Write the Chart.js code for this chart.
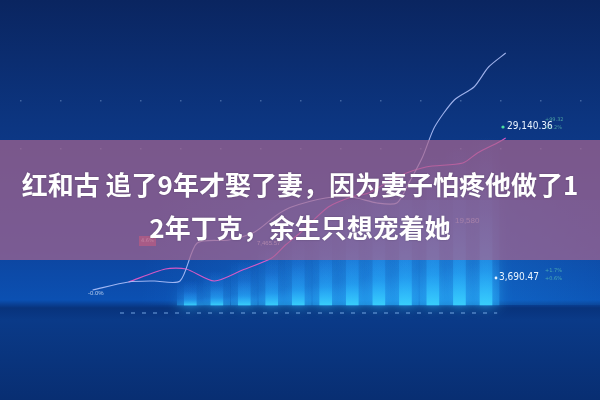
<!DOCTYPE html>
<html>
<head>
<meta charset="utf-8">
<script src="https://cdn.jsdelivr.net/npm/chart.js@4.4.1/dist/chart.umd.min.js"></script>
<style>
  body { margin: 0; background: #0a2a66; }
  #wrap { position: relative; width: 600px; height: 400px; overflow: hidden; }
  #band {
    position: absolute; left: 0; top: 140px; width: 600px; height: 120px;
    box-sizing: border-box; padding-top: 22px;
    background: rgba(169, 101, 143, 0.7);
    color: #fff; text-align: center;
    font: bold 26px "Noto Sans CJK SC", "Noto Sans", sans-serif;
    line-height: 43px;
    text-shadow: 0 0 2px rgba(0, 0, 0, 0.25);
  }
</style>
</head>
<body>
<div id="wrap">
  <canvas id="myChart" width="600" height="400"></canvas>
  <div id="band">红和古 追了9年才娶了妻，因为妻子怕疼他做了1<br>2年丁克，余生只想宠着她</div>
</div>

<script>
// index line (light blue)
var whiteX = [58, 100, 130, 160, 180, 217, 247, 273, 290, 330, 360, 390, 413, 427, 443, 457, 480, 503, 520, 540];
var whiteY = [110, 118, 119, 119, 157, 160, 168, 185, 193, 202, 203, 197, 197, 217, 243, 273, 300, 313, 333, 347];

// second line (pink)
var pinkX = [100, 143, 167, 200, 233, 267, 283, 300, 333, 360, 380, 413, 447, 490, 507, 530, 540];
var pinkY = [118, 131, 131, 119, 130, 142, 155, 167, 193, 203, 207, 223, 233, 237, 247, 257, 262];

// glowing columns
var barX = [172, 203, 235, 267, 298, 330, 361, 392, 423, 455, 486, 517];
var barTop = [120, 130, 140, 155, 170, 185, 200, 215, 230, 245, 255, 265];
var barBase = 95;

// dashed floor line
var floorX = [90, 530];
var floorY = [87, 87];

function pts(xs, ys) {
    var out = [];
    for (var i = 0; i < xs.length; i++) out.push({ x: xs[i], y: ys[i] });
    return out;
}

var barData = [];
for (var i = 0; i < barX.length; i++) barData.push({ x: barX[i], y: [barBase, barTop[i]] });

function barFill(c, strong) {
    var chart = c.chart;
    if (!chart.chartArea || !c.raw) return "rgba(0,0,0,0)";
    var ys = chart.scales.y;
    var g = chart.ctx.createLinearGradient(0, ys.getPixelForValue(c.raw.y[0]), 0, ys.getPixelForValue(c.raw.y[1]));
    if (strong) {
        g.addColorStop(0, "rgba(60,215,255,0.85)");
        g.addColorStop(0.2, "rgba(40,175,255,0.45)");
        g.addColorStop(0.55, "rgba(40,140,255,0.12)");
        g.addColorStop(1, "rgba(40,130,255,0)");
    } else {
        g.addColorStop(0, "rgba(40,180,255,0.4)");
        g.addColorStop(0.25, "rgba(40,150,255,0.15)");
        g.addColorStop(1, "rgba(40,120,255,0)");
    }
    return g;
}

var background = {
    id: "background",
    beforeDraw: function (chart) {
        var ctx = chart.ctx, w = chart.width, h = chart.height;
        ctx.save();
        var g = ctx.createLinearGradient(0, 0, 0, h);
        g.addColorStop(0, "#0a2560");
        g.addColorStop(0.3, "#0c3580");
        g.addColorStop(0.62, "#0d449e");
        g.addColorStop(0.75, "#0b50b2");
        g.addColorStop(0.77, "#08337c");
        g.addColorStop(0.8, "#0a3a88");
        g.addColorStop(1, "#082e72");
        ctx.fillStyle = g;
        ctx.fillRect(0, 0, w, h);

        // soft glow behind the columns
        var r = ctx.createRadialGradient(400, 300, 10, 400, 300, 260);
        r.addColorStop(0, "rgba(30,160,255,0.35)");
        r.addColorStop(1, "rgba(30,160,255,0)");
        ctx.fillStyle = r;
        ctx.fillRect(0, 200, w, 105);

        // faint dot grid
        ctx.fillStyle = "rgba(190,220,255,0.3)";
        for (var x = 20; x < w; x += 40) {
            ctx.fillRect(x, 100, 1.5, 1.5);
            ctx.fillRect(x, 148, 1.5, 1.5);
        }
        ctx.restore();
    },
    beforeDatasetDraw: function (chart, args) {
        if (args.meta.type === "bar") {
            chart.ctx.save();
            chart.ctx.shadowColor = "rgba(50,190,255,0.8)";
            chart.ctx.shadowBlur = 14;
        }
    },
    afterDatasetDraw: function (chart, args) {
        if (args.meta.type === "bar") chart.ctx.restore();
    }
};

var labels = {
    id: "labels",
    afterDatasetsDraw: function (chart) {
        var ctx = chart.ctx;
        ctx.save();
        ctx.textBaseline = "middle";
        ctx.textAlign = "left";

        ctx.fillStyle = "#4be0a0";
        ctx.beginPath(); ctx.arc(503, 127, 1.6, 0, Math.PI * 2); ctx.fill();
        ctx.fillStyle = "#eaf4ff";
        ctx.font = "10px 'Liberation Sans Narrow', 'DejaVu Sans Condensed', sans-serif";
        ctx.fillText("29,140.36", 507, 126);
        ctx.fillStyle = "rgba(110,220,180,0.6)";
        ctx.font = "5px 'DejaVu Sans'";
        ctx.fillText("+99.32", 545, 120);
        ctx.fillText("+1.2%", 545, 128);

        ctx.fillStyle = "#eaf4ff";
        ctx.beginPath(); ctx.arc(496, 278, 1.4, 0, Math.PI * 2); ctx.fill();
        ctx.font = "10px 'Liberation Sans Narrow', 'DejaVu Sans Condensed', sans-serif";
        ctx.fillText("3,690.47", 499, 277);
        ctx.fillStyle = "rgba(110,220,180,0.6)";
        ctx.font = "5px 'DejaVu Sans'";
        ctx.fillText("+1.7%", 545, 271);
        ctx.fillText("+0.6%", 545, 279);

        ctx.fillStyle = "rgba(210,225,245,0.7)";
        ctx.font = "8px 'Liberation Sans Narrow', sans-serif";
        ctx.fillText("19,580", 455, 221);

        ctx.fillStyle = "rgba(230,240,255,0.75)";
        ctx.font = "6px 'Liberation Sans Narrow', sans-serif";
        ctx.fillText("7,465.57", 257, 243);
        ctx.fillText("-0.0%", 88, 293);

        ctx.fillStyle = "rgba(230,70,100,0.7)";
        ctx.fillRect(139, 236, 17, 10);
        ctx.fillStyle = "rgba(255,200,210,0.9)";
        ctx.font = "5px 'DejaVu Sans'";
        ctx.fillText("4.6%", 141, 241);
        ctx.restore();
    }
};

new Chart("myChart", {
    type: "bar",
    data: {
        datasets: [{
            type: "line",
            data: pts(whiteX, whiteY),
            borderColor: "rgba(185,200,255,0.85)",
            borderWidth: 1.1,
            pointRadius: 0,
            tension: 0.25,
            order: 0
        }, {
            type: "line",
            data: pts(pinkX, pinkY),
            borderColor: "rgba(235,90,200,0.9)",
            borderWidth: 1.1,
            pointRadius: 0,
            tension: 0.25,
            order: 0
        }, {
            type: "line",
            data: pts(floorX, floorY),
            borderColor: "rgba(150,200,255,0.5)",
            borderWidth: 1.5,
            borderDash: [4, 7],
            pointRadius: 0,
            order: 0
        }, {
            type: "bar",
            data: barData,
            backgroundColor: function (c) { return barFill(c, true); },
            barThickness: 12,
            grouped: false,
            order: 1
        }, {
            type: "bar",
            data: barData,
            backgroundColor: function (c) { return barFill(c, false); },
            barThickness: 26,
            grouped: false,
            order: 2
        }]
    },
    options: {
        responsive: false,
        animation: false,
        layout: { padding: 0 },
        plugins: { legend: { display: false }, tooltip: { enabled: false } },
        scales: {
            x: { type: "linear", min: 0, max: 600, display: false },
            y: { min: 0, max: 400, display: false }
        }
    },
    plugins: [background, labels]
});
</script>
</body>
</html>
